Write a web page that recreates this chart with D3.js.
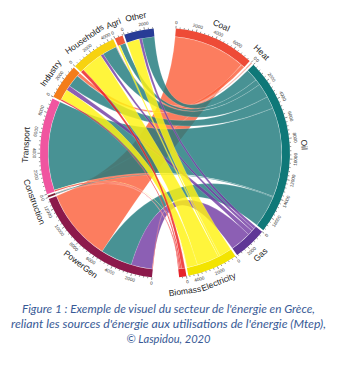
<!DOCTYPE html>
<html>
<head>
<meta charset="utf-8">
<script src="https://cdn.jsdelivr.net/npm/d3@7"></script>
<style>
  html, body { margin: 0; padding: 0; background: #fff; }
  svg { display: block; }
</style>
</head>
<body>
<svg id="chart" width="338" height="370"></svg>
<script>
// Energy sources (right half) and energy uses (left half), clockwise order
const sources = ["Coal", "Heat", "Oil", "Gas", "Electricity", "Biomass"];
const uses = ["PowerGen", "Construction", "Transport", "Industry", "Households", "Agri", "Other"];

// Flows from source to use; within each source they are listed clockwise
const flowFrom = ["Coal", "Coal", "Coal",
  "Heat", "Heat",
  "Oil", "Oil", "Oil", "Oil", "Oil", "Oil", "Oil",
  "Gas", "Gas", "Gas", "Gas",
  "Electricity", "Electricity", "Electricity", "Electricity", "Electricity",
  "Biomass", "Biomass", "Biomass", "Biomass", "Biomass"];
const flowTo = ["PowerGen", "Construction", "Industry",
  "Industry", "Households",
  "Other", "Agri", "Households", "Industry", "Transport", "Construction", "PowerGen",
  "Other", "Households", "Industry", "PowerGen",
  "Other", "Agri", "Households", "Industry", "Transport",
  "Households", "Industry", "Transport", "Construction", "PowerGen"];
const flowValue = [7500, 40, 350,
  40, 80,
  1300, 600, 1500, 1300, 9300, 100, 3300,
  300, 300, 500, 2200,
  1300, 200, 2300, 1100, 30,
  350, 150, 120, 30, 60];

// Axis ticks
const tickStep = 400;
const labelStep = 2000;

// Caption
const captionLines = [
  "Figure 1 : Exemple de visuel du secteur de l'énergie en Grèce,",
  "reliant les sources d'énergie aux utilisations de l'énergie (Mtep),",
  "© Laspidou, 2020"
];

// Colours
const bandColor = {
  Coal: "#EE4B37", Heat: "#F2A293", Oil: "#0F7878", Gas: "#5F3796",
  Electricity: "#F3E400", Biomass: "#E6232A",
  PowerGen: "#8C194B", Construction: "#7A2236", Transport: "#F055A0",
  Industry: "#F47D1A", Households: "#F7D210", Agri: "#EE5A3B", Other: "#283C96"
};
const ribbonColor = {
  Coal: "#FB603C", Heat: "#F08A78", Oil: "#207A7D", Gas: "#733CA4",
  Electricity: "#FFF311", Biomass: "#ED1E1E"
};

// ---- layout ----
const cx = 165, cy = 153;
const rOut = 125, rIn = 117;
const DEG = Math.PI / 180;
const srcStart = 5.0, useStart = 186.0;
const srcGap = 0.9, useGap = 0.8, dataSpan = 164;

const flows = flowFrom.map((s, i) => ({ from: s, to: flowTo[i], value: flowValue[i] }));
const srcTotals = sources.map(s => d3.sum(flows.filter(f => f.from === s), f => f.value));
const useTotals = uses.map(u => d3.sum(flows.filter(f => f.to === u), f => f.value));
const grand = d3.sum(srcTotals);

const ang = d3.scaleLinear().domain([0, grand]).range([0, dataSpan * DEG]);

const groups = [];
let pos = srcStart * DEG;
sources.forEach((s, i) => {
  groups.push({ name: s, startAngle: pos, endAngle: pos + ang(srcTotals[i]), value: srcTotals[i] });
  pos += ang(srcTotals[i]) + srcGap * DEG;
});
pos = useStart * DEG;
uses.forEach((u, i) => {
  groups.push({ name: u, startAngle: pos, endAngle: pos + ang(useTotals[i]), value: useTotals[i] });
  pos += ang(useTotals[i]) + useGap * DEG;
});

// Source-side segments, in listed order
const cursor = Object.fromEntries(groups.map(g => [g.name, g.startAngle]));
flows.forEach(f => {
  const a0 = cursor[f.from], a1 = a0 + ang(f.value);
  f.source = { startAngle: a0, endAngle: a1 };
  cursor[f.from] = a1;
});
// Use-side segments, sources taken in reverse order so ribbons do not twist
const revSources = sources.slice().reverse();
uses.forEach(u => {
  revSources.forEach(s => {
    flows.filter(f => f.from === s && f.to === u).forEach(f => {
      const a0 = cursor[u], a1 = a0 + ang(f.value);
      f.target = { startAngle: a0, endAngle: a1 };
      cursor[u] = a1;
    });
  });
});

const svg = d3.select("#chart");
const g = svg.append("g").attr("transform", `translate(${cx},${cy})`);

// ribbons
const ribbon = d3.ribbon().radius(rIn - 0.3);
g.append("g").selectAll("path")
  .data(flows)
  .join("path")
  .attr("d", ribbon)
  .attr("fill", d => ribbonColor[d.from])
  .attr("fill-opacity", 0.82)
  .attr("stroke", "#fff")
  .attr("stroke-opacity", 0.5)
  .attr("stroke-width", 0.3);

// outer bands
const arc = d3.arc().innerRadius(rIn).outerRadius(rOut);
g.append("g").selectAll("path")
  .data(groups)
  .join("path")
  .attr("d", arc)
  .attr("fill", d => bandColor[d.name]);

// tangential placement with flipping on the lower half
function tangent(angle, r) {
  const d = angle / DEG;
  const flip = d > 90 && d < 270;
  return `rotate(${d}) translate(0,${-r})` + (flip ? " rotate(180)" : "");
}

// ticks
const axis = g.append("g");
groups.forEach(gr => {
  const vals = d3.range(0, gr.value + 1e-6, tickStep);
  vals.forEach(v => {
    const a = gr.startAngle + ang(v);
    const major = v % labelStep === 0;
    axis.append("line")
      .attr("transform", `rotate(${a / DEG})`)
      .attr("x1", 0).attr("x2", 0)
      .attr("y1", -rOut).attr("y2", -(rOut + (major ? 2.6 : 1.4)))
      .attr("stroke", "#333").attr("stroke-width", 0.5);
    if (major) {
      axis.append("text")
        .attr("transform", tangent(a, rOut + 5.8))
        .attr("text-anchor", "middle")
        .attr("dominant-baseline", "central")
        .attr("font-family", "Liberation Sans, Arial, sans-serif")
        .attr("font-size", 4.6)
        .attr("fill", "#333")
        .text(v);
    }
  });
});

// sector names
g.append("g").selectAll("text")
  .data(groups)
  .join("text")
  .attr("transform", d => tangent((d.startAngle + d.endAngle) / 2, 139.5))
  .attr("text-anchor", "middle")
  .attr("dominant-baseline", "central")
  .attr("font-family", "Liberation Sans, Arial, sans-serif")
  .attr("font-size", 8.5)
  .attr("fill", "#222")
  .text(d => d.name);

// caption
const capY = [312.5, 327.5, 342.5];
const capW = [293, 315, 84];
svg.append("g").selectAll("text")
  .data(captionLines)
  .join("text")
  .attr("x", 168.5)
  .attr("y", (d, i) => capY[i])
  .attr("text-anchor", "middle")
  .attr("font-family", "Lato, 'Open Sans', sans-serif")
  .attr("font-style", "italic")
  .attr("font-size", 11.8)
  .attr("fill", "#385A96")
  .attr("textLength", (d, i) => capW[i])
  .attr("lengthAdjust", "spacingAndGlyphs")
  .text(d => d);
</script>
</body>
</html>
